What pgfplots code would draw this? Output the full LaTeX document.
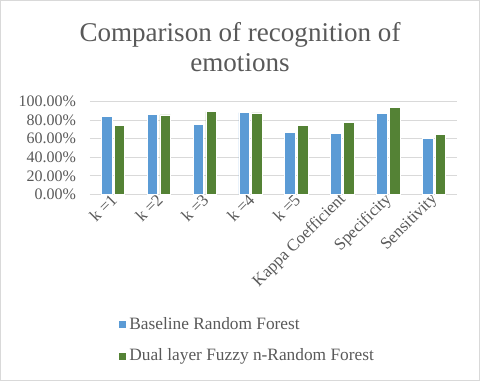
\documentclass[border=0pt]{standalone}
\usepackage{fontspec}
\setmainfont{Liberation Serif}
\usepackage{pgfplots}
\usepackage{pgfplotstable}
\pgfplotsset{compat=1.18}
\definecolor{barblue}{RGB}{91,155,213}
\definecolor{bargreen}{RGB}{84,130,53}
\definecolor{txtgray}{RGB}{89,89,89}
\definecolor{gridgray}{RGB}{217,217,217}

% Baseline RF vs dual layer fuzzy n-RF, percent
\pgfplotstableread{
x base dual
1 83.9 74.6
2 86.4 85.7
3 75.4 89.3
4 88.2 87.9
5 66.8 74.6
6 66.1 77.5
7 87.1 93.6
8 60.4 65.0
}\emotab

\begin{document}
\begin{tikzpicture}
\useasboundingbox (0,0) rectangle (360pt,285.75pt);
\draw[gridgray,line width=0.75pt] (0.375pt,0.375pt) rectangle (359.625pt,285.375pt);
\node[anchor=base,text=txtgray,font=\fontsize{20.3}{24}\selectfont] at (180pt,254.6pt) {Comparison of recognition of};
\node[anchor=base,text=txtgray,font=\fontsize{20.3}{24}\selectfont] at (180pt,232pt) {emotions};
\begin{axis}[at={(67.5pt,140pt)},anchor=south west,scale only axis,
  width=275.25pt,height=69.45pt,
  xmin=0.5,xmax=8.5,ymin=0,ymax=100,
  xtick={1,...,8},
  xticklabels={k =1,k =2,k =3,k =4,k =5,Kappa Coefficient,Specificity,Sensitivity},
  ytick={0,20,...,100},
  yticklabel={\pgfmathprintnumber[fixed,fixed zerofill,precision=2]{\tick}\%},
  /pgf/number format/assume math mode=true,
  major tick length=0pt,
  axis line style={draw=none},
  ymajorgrids,grid style={gridgray,line width=0.75pt},
  tick label style={font=\fontsize{12}{14}\selectfont,text=txtgray},
  yticklabel style={xshift=-7pt},
  xticklabel style={rotate=45,anchor=east,yshift=-2pt,xshift=2.5pt,
    font=\fontsize{12.6}{14}\selectfont},
  legend style={at={(0.065,-1.27)},anchor=north west,draw=none,fill=none,
    font=\fontsize{13}{15}\selectfont,text=txtgray,row sep=9pt,
    legend cell align=left},
  legend image code/.code={\fill[#1] (0pt,-3pt) rectangle (6pt,3pt);},
  ]
\addplot[ybar,bar width=7.9pt,bar shift=-4.8pt,fill=barblue,draw=white,line width=0.4pt] table[x=x,y=base] {\emotab};
\addlegendentry{Baseline Random Forest}
\addplot[ybar,bar width=7.9pt,bar shift=4.8pt,fill=bargreen,draw=white,line width=0.4pt] table[x=x,y=dual] {\emotab};
\addlegendentry{Dual layer Fuzzy n-Random Forest}
\end{axis}
\end{tikzpicture}
\end{document}
